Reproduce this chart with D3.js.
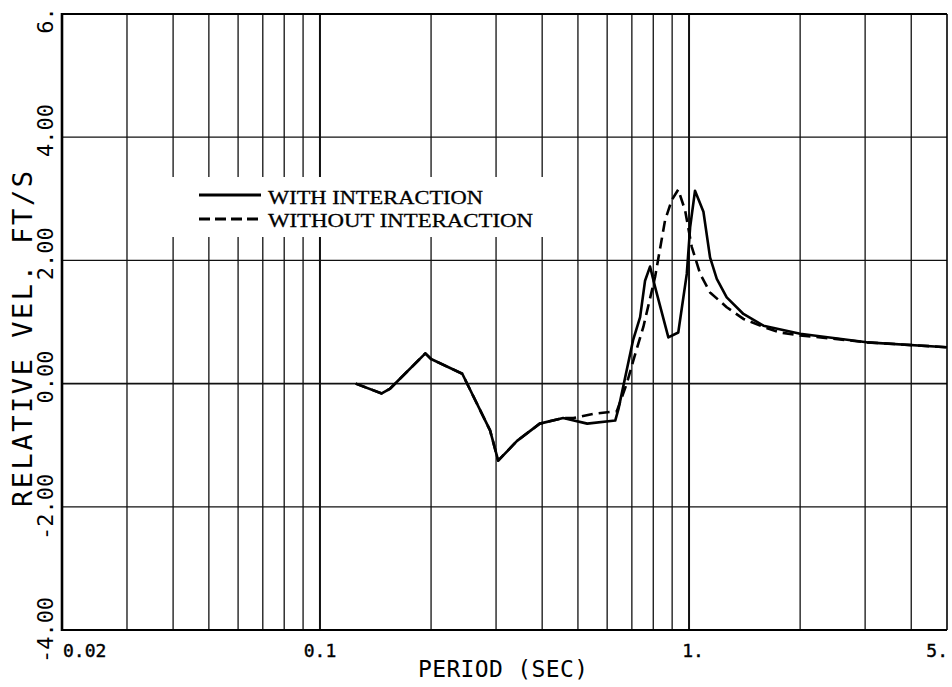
<!DOCTYPE html>
<html><head><meta charset="utf-8">
<script src="https://cdn.jsdelivr.net/npm/d3@7"></script>
<style>html,body{margin:0;padding:0;background:#fff;}svg{display:block;}</style>
</head><body><div id="chart"></div>
<script>
// ---- data ----
const periodWith = [0.125, 0.147, 0.155, 0.193, 0.2, 0.243, 0.289, 0.304, 0.342, 0.394, 0.456, 0.530, 0.631, 0.644, 0.705, 0.737, 0.760, 0.784, 0.809, 0.879, 0.935, 0.986, 1.007, 1.038, 1.094, 1.140, 1.189, 1.265, 1.404, 1.591, 2.0, 3.03, 5.0];
const velWith = [0, -0.16, -0.08, 0.49, 0.4, 0.16, -0.76, -1.25, -0.93, -0.65, -0.56, -0.65, -0.6, -0.41, 0.7, 1.08, 1.67, 1.90, 1.57, 0.75, 0.83, 1.78, 2.54, 3.13, 2.79, 2.05, 1.70, 1.40, 1.13, 0.94, 0.81, 0.67, 0.59];
const periodWithout = [0.125, 0.147, 0.155, 0.193, 0.2, 0.243, 0.289, 0.304, 0.342, 0.394, 0.456, 0.486, 0.551, 0.637, 0.678, 0.706, 0.752, 0.809, 0.861, 0.898, 0.935, 0.976, 1.017, 1.072, 1.140, 1.265, 1.404, 1.591, 1.765, 2.0, 2.46, 3.03, 5.0];
const velWithout = [0, -0.16, -0.08, 0.49, 0.4, 0.16, -0.76, -1.25, -0.93, -0.65, -0.56, -0.56, -0.49, -0.45, 0.0, 0.37, 0.92, 1.73, 2.65, 2.98, 3.15, 2.81, 2.22, 1.78, 1.48, 1.24, 1.05, 0.92, 0.83, 0.78, 0.73, 0.67, 0.59];
const xGrid = [0.03,0.04,0.05,0.06,0.07,0.08,0.09,0.1,0.2,0.3,0.4,0.5,0.6,0.7,0.8,0.9,1,2,3,4];
const xTickValues = [0.02, 0.1, 1, 5];
const xTickLabels = ["0.02", "0.1", "1.", "5."];
const yTickValues = [-4, -2, 0, 2, 4, 6];
const yTickLabels = ["-4.00", "-2.00", "0.00", "2.00", "4.00", "6."];
const seriesNames = ["WITH INTERACTION", "WITHOUT INTERACTION"];
const xTitle = "PERIOD (SEC)";
const yTitle = "RELATIVE VEL. FT/S";

// ---- layout ----
const W = 952, H = 687;
const L = 62, R = 947, T = 14, B = 630;
const x = d3.scaleLog().domain([0.02, 5]).range([L, R]);
const y = d3.scaleLinear().domain([-4, 6]).range([B, T]);

const svg = d3.select("#chart").append("svg").attr("width", W).attr("height", H);
svg.append("rect").attr("width", W).attr("height", H).attr("fill", "#fff");

const mono = "'DejaVu Sans Mono', monospace";

// vertical grid
svg.append("g").selectAll("line").data(xGrid).join("line")
  .attr("x1", d => x(d)).attr("x2", d => x(d)).attr("y1", T).attr("y2", B)
  .attr("stroke", "#111")
  .attr("stroke-width", d => (d === 0.1 || d === 1) ? 2 : 1.3);
// horizontal grid
svg.append("g").selectAll("line").data([-2, 0, 2, 4]).join("line")
  .attr("x1", L).attr("x2", R).attr("y1", d => y(d)).attr("y2", d => y(d))
  .attr("stroke", "#111").attr("stroke-width", d => d === 0 ? 1.6 : 1.3);

// legend background clears grid
const legendBox = {x0: 150, x1: 560, y0: 177, y1: 237};
svg.append("rect").attr("x", legendBox.x0).attr("y", legendBox.y0)
  .attr("width", legendBox.x1 - legendBox.x0).attr("height", legendBox.y1 - legendBox.y0)
  .attr("fill", "#fff");

// frame
svg.append("line").attr("x1", L).attr("x2", L).attr("y1", T - 1).attr("y2", B + 1).attr("stroke", "#000").attr("stroke-width", 2.6);
svg.append("line").attr("x1", L).attr("x2", R).attr("y1", T).attr("y2", T).attr("stroke", "#000").attr("stroke-width", 2.2);
svg.append("line").attr("x1", L).attr("x2", R).attr("y1", B).attr("y2", B).attr("stroke", "#000").attr("stroke-width", 2);
svg.append("line").attr("x1", R).attr("x2", R).attr("y1", T).attr("y2", B).attr("stroke", "#000").attr("stroke-width", 1.6);

// curves
const line = d3.line().x(d => x(d[0])).y(d => y(d[1]));
const dWith = periodWith.map((p, i) => [p, velWith[i]]);
const dWithout = periodWithout.map((p, i) => [p, velWithout[i]]);
svg.append("path").attr("d", line(dWithout)).attr("fill", "none").attr("stroke", "#000")
  .attr("stroke-width", 2.6).attr("stroke-dasharray", "11,6").attr("stroke-linejoin", "round");
svg.append("path").attr("d", line(dWith)).attr("fill", "none").attr("stroke", "#000")
  .attr("stroke-width", 2.6).attr("stroke-linejoin", "round");

// x tick labels
const xAnchor = ["start", "middle", "middle", "end"];
const xOff = [1, 0, 4, 1];
svg.append("g").selectAll("text").data(xTickValues).join("text")
  .attr("x", (d, i) => x(d) + xOff[i]).attr("y", 657)
  .attr("text-anchor", (d, i) => xAnchor[i])
  .attr("font-family", mono).attr("font-size", 18).attr("fill", "#000")
  .attr("stroke", "#000").attr("stroke-width", 0.4)
  .text((d, i) => xTickLabels[i]);

// y tick labels (rotated, decimal point on the gridline)
const yFs = 22, adv = 0.602 * yFs;
svg.append("g").selectAll("text").data(yTickValues).join("text")
  .attr("transform", d => `translate(53,${y(d)}) rotate(-90)`)
  .attr("x", (d, i) => -(yTickLabels[i].indexOf(".") + 0.5) * adv)
  .attr("font-family", mono).attr("font-size", yFs).attr("fill", "#000")
  .text((d, i) => yTickLabels[i]);

// axis titles
svg.append("text").attr("x", 503).attr("y", 677).attr("text-anchor", "middle")
  .attr("font-family", mono).attr("font-size", 23).attr("fill", "#000")
  .attr("textLength", 170).attr("lengthAdjust", "spacing").text(xTitle);
svg.append("text").attr("transform", "translate(32,507) rotate(-90)")
  .attr("font-family", mono).attr("font-size", 27).attr("fill", "#000")
  .attr("textLength", 336).attr("lengthAdjust", "spacing").text(yTitle);

// legend
const lg = svg.append("g");
[[195, null, 204, 215], [219, "11,5", 227, 265]].forEach((r, i) => {
  lg.append("line").attr("x1", 199).attr("x2", 261).attr("y1", r[0]).attr("y2", r[0])
    .attr("stroke", "#000").attr("stroke-width", 3).attr("stroke-dasharray", r[1]);
  lg.append("text").attr("x", 268).attr("y", r[2])
    .attr("font-family", "'Liberation Serif', serif").attr("font-size", 19).attr("fill", "#000")
    .attr("stroke", "#000").attr("stroke-width", 0.3)
    .attr("textLength", r[3]).attr("lengthAdjust", "spacingAndGlyphs").text(seriesNames[i]);
});
</script></body></html>
